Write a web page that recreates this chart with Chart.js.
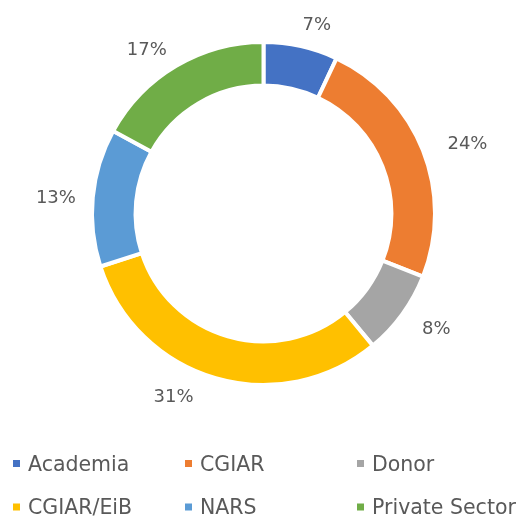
<!DOCTYPE html>
<html>
<head>
<meta charset="utf-8">
<script src="https://cdn.jsdelivr.net/npm/chart.js@4/dist/chart.umd.min.js"></script>
<style>
	html, body { margin: 0; padding: 0; background: #fff; }
</style>
</head>
<body>
<canvas id="chart" width="529" height="518"></canvas>
<script>
// --- Data ---
const categories = ['Academia', 'CGIAR', 'Donor', 'CGIAR/EiB', 'NARS', 'Private Sector'];
const shares = [7, 24, 8, 31, 13, 17];
const sliceColors = ['#4472C4', '#ED7D31', '#A5A5A5', '#FFC000', '#5B9BD5', '#70AD47'];
const shareLabels = shares.map((v) => v + '%');

const textColor = '#595959';
const fontFamily = "'DejaVu Sans', Verdana, sans-serif";

// percent labels outside the ring, nudged a little like the hand-placed originals
const sliceLabels = {
	id: 'sliceLabels',
	afterDatasetsDraw(chart, args, opts) {
		const ctx = chart.ctx;
		const arcs = chart.getDatasetMeta(0).data;
		ctx.save();
		ctx.font = opts.font;
		ctx.fillStyle = opts.color;
		ctx.textAlign = 'center';
		ctx.textBaseline = 'middle';
		arcs.forEach((arc, i) => {
			const { x, y, startAngle, endAngle, outerRadius } = arc.getProps(
				['x', 'y', 'startAngle', 'endAngle', 'outerRadius'],
				true
			);
			const mid = (startAngle + endAngle) / 2;
			const r = outerRadius + opts.offset;
			const [dx, dy] = opts.nudge[i] || [0, 0];
			ctx.fillText(shareLabels[i], x + Math.cos(mid) * r + dx, y + Math.sin(mid) * r + dy);
		});
		ctx.restore();
	},
};

// legend in a fixed 3-column grid, as in the Excel original
const gridLegend = {
	id: 'gridLegend',
	afterDraw(chart, args, opts) {
		const ctx = chart.ctx;
		ctx.save();
		ctx.font = opts.font;
		ctx.textAlign = 'left';
		ctx.textBaseline = 'middle';
		categories.forEach((name, i) => {
			const x = opts.left + (i % 3) * opts.colWidth;
			const y = opts.top + Math.floor(i / 3) * opts.rowHeight;
			ctx.fillStyle = sliceColors[i];
			ctx.fillRect(x, y - 1 - opts.box / 2, opts.box, opts.box);
			ctx.fillStyle = opts.color;
			ctx.fillText(name, x + opts.textGap, y + 1);
		});
		ctx.restore();
	},
};

new Chart(document.getElementById('chart').getContext('2d'), {
	type: 'doughnut',
	data: {
		labels: categories,
		datasets: [
			{
				data: shares,
				backgroundColor: sliceColors,
				borderColor: '#ffffff',
				borderWidth: 4,
				hoverBorderWidth: 4,
			},
		],
	},
	options: {
		responsive: false,
		animation: false,
		cutout: '74.6%',
		layout: { padding: { top: 40, bottom: 131, left: 0, right: 2 } },
		plugins: {
			legend: { display: false },
			tooltip: { enabled: false },
			sliceLabels: {
				font: '18px ' + fontFamily,
				color: textColor,
				offset: 36,
				nudge: [[8, 14], [11, 7], [5, -6], [-32, -15], [-1, 4], [-11, 15]],
			},
			gridLegend: {
				font: '20.5px ' + fontFamily,
				color: textColor,
				left: 13,
				top: 464.5,
				colWidth: 172,
				rowHeight: 43.5,
				box: 7,
				textGap: 15,
			},
		},
	},
	plugins: [sliceLabels, gridLegend],
});
</script>
</body>
</html>
